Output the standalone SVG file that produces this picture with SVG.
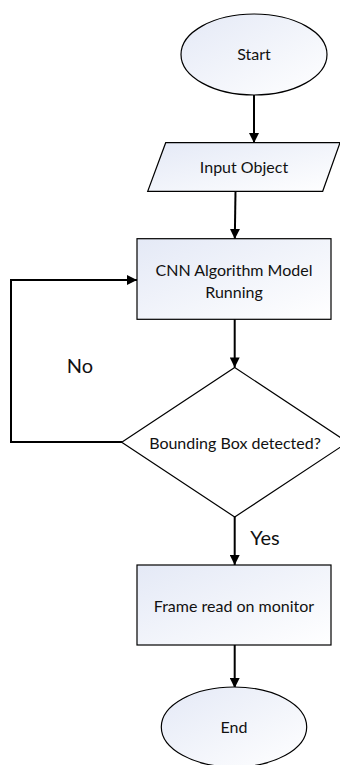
<svg xmlns="http://www.w3.org/2000/svg" width="340" height="765" viewBox="0 0 340 765">
<style>
.shape{stroke:#000;stroke-width:1.2;fill:url(#g)}
.dia{stroke:#000;stroke-width:1.2;fill:#fff}
.t{font-family:Lato,"Liberation Sans",sans-serif;font-size:16px;fill:#111;text-anchor:middle}
.lbl{font-family:Lato,"Liberation Sans",sans-serif;font-size:20px;fill:#111;text-anchor:middle}
.c{stroke:#000;stroke-width:2;fill:none;marker-end:url(#ah)}
</style>
<defs>
<linearGradient id="g" x1="0" y1="0" x2="1" y2="1">
<stop offset="0" stop-color="#e4e9f6"/>
<stop offset="1" stop-color="#ffffff"/>
</linearGradient>
<marker id="ah" viewBox="0 0 10 10" refX="10" refY="5" markerWidth="5.5" markerHeight="5" markerUnits="strokeWidth" orient="auto">
<path d="M0,0 L10,5 L0,10 z" fill="#000"/>
</marker>
</defs>
<g id="connectors">
<line class="c" x1="254" y1="95" x2="254" y2="143"/>
<line class="c" x1="235.5" y1="191" x2="234.8" y2="239"/>
<line class="c" x1="234.7" y1="319" x2="234.7" y2="367.5"/>
<polyline class="c" points="122,442 11,442 11,280 137,280"/>
<line class="c" x1="234.7" y1="517" x2="234.7" y2="565"/>
<line class="c" x1="234.7" y1="645" x2="234.7" y2="688"/>
<text class="lbl" x="80" y="373">No</text>
<text class="lbl" x="265" y="545">Yes</text>
</g>
<g id="start">
<ellipse class="shape" cx="254" cy="54.5" rx="73" ry="40.5"/>
<text class="t" x="254" y="60">Start</text>
</g>
<g id="input">
<polygon class="shape" points="165.7,142.7 340,142.7 322.7,191.3 147.7,191.3"/>
<text class="t" x="244" y="173">Input Object</text>
</g>
<g id="cnn">
<rect class="shape" x="137" y="238.7" width="194" height="80.6"/>
<text class="t" x="234" y="276">CNN Algorithm Model</text>
<text class="t" x="234" y="298">Running</text>
</g>
<g id="decision">
<polygon class="dia" points="234.7,367.5 347.7,442.3 234.7,517 121.7,442.3"/>
<text class="t" x="235" y="449">Bounding Box detected?</text>
</g>
<g id="frame">
<rect class="shape" x="137" y="565" width="194" height="80"/>
<text class="t" x="234" y="612">Frame read on monitor</text>
</g>
<g id="end">
<ellipse class="shape" cx="234" cy="727" rx="72.7" ry="40"/>
<text class="t" x="234" y="733">End</text>
</g>
</svg>
